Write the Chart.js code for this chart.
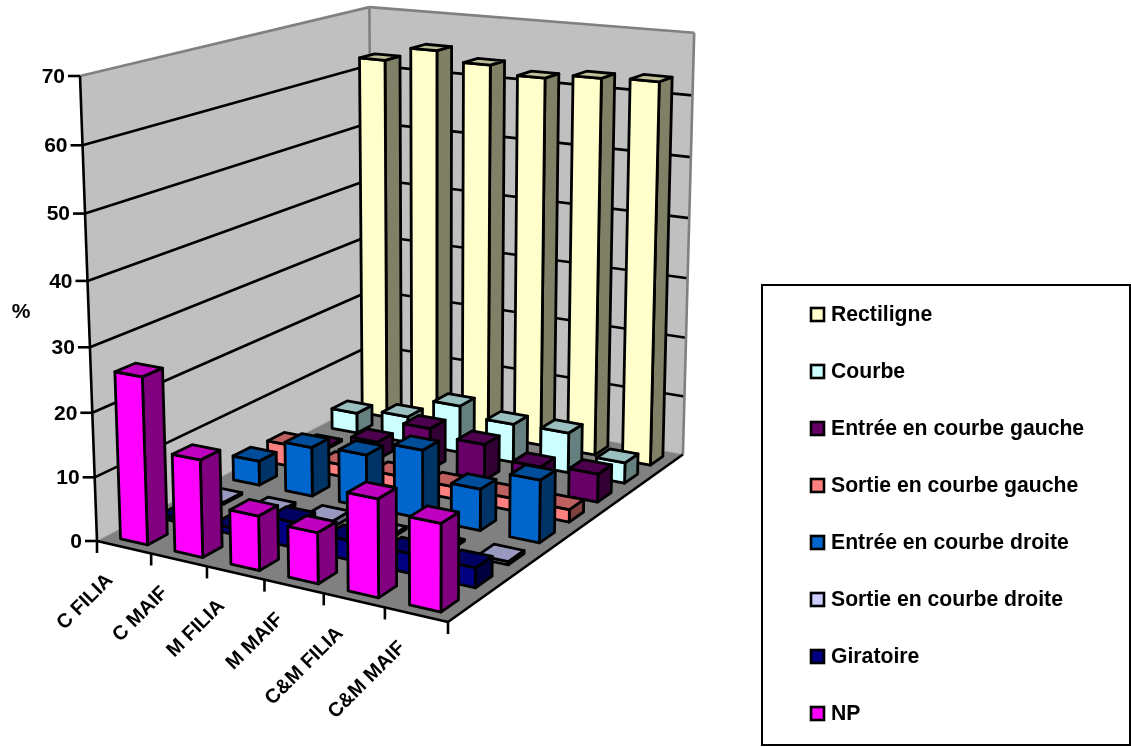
<!DOCTYPE html>
<html>
<head>
<meta charset="utf-8">
<style>html,body{margin:0;padding:0;background:#fff}canvas{display:block}</style>
<script src="https://cdn.jsdelivr.net/npm/chart.js@4"></script>
</head>
<body>
<canvas id="c" width="1131" height="747"></canvas>
<script>
const categories = ['C FILIA', 'C MAIF', 'M FILIA', 'M MAIF', 'C&M FILIA', 'C&M MAIF'];
const seriesNames = ['Rectiligne', 'Courbe', 'Entrée en courbe gauche', 'Sortie en courbe gauche',
  'Entrée en courbe droite', 'Sortie en courbe droite', 'Giratoire', 'NP'];
const rectiligne = [62.5, 64.9, 63.3, 62, 62.8, 63.1];
const courbe = [3.5, 4.5, 8, 6.5, 6.7, 3.4];
const entreeGauche = [0.3, 3, 7, 6, 4, 4.6];
const sortieGauche = [3.6, 2, 2, 2, 2, 2];
const entreeDroite = [4, 8, 8.5, 11, 6.6, 9.8];
const sortieDroite = [0.3, 0.5, 1, 0.4, 0.3, 0.5];
const giratoire = [0.6, 1, 4, 3, 3, 3];
const np = [26, 15, 8.3, 7.7, 14.6, 12.9];
const seriesValues = [rectiligne, courbe, entreeGauche, sortieGauche, entreeDroite, sortieDroite, giratoire, np];
const seriesColors = ['#FFFFCC', '#CCFFFF', '#660066', '#FF8080', '#0066CC', '#CCCCFF', '#000080', '#FF00FF'];
const yTicks = { min: 0, max: 70, step: 10 };

// Perspective box of the plot: floor corners, top of the left wall, homogeneous weights.
const BOX = {
  origin: [97, 541], right: [448, 622], back: [372, 399], up: [80, 76],
  p: -0.0875, q: 0.195, r: -0.048
};
function project(u, v, w) {
  const { origin: A, right: B, back: D, up: T, p, q, r } = BOX;
  const d = 1 + p * u + q * w + r * v;
  const f = i => A[i] + u * (B[i] * (1 + p) - A[i]) + w * (D[i] * (1 + q) - A[i]) + v * (T[i] * (1 + r) - A[i]);
  return [f(0) / d, f(1) / d];
}
function shade(hex, k) {
  const n = parseInt(hex.slice(1), 16);
  const c = s => Math.round(((n >> s) & 255) * k);
  return `rgb(${c(16)},${c(8)},${c(0)})`;
}
function poly(ctx, pts, fill, stroke, lw) {
  ctx.beginPath();
  pts.forEach((q, i) => i ? ctx.lineTo(q[0], q[1]) : ctx.moveTo(q[0], q[1]));
  ctx.closePath();
  if (fill) { ctx.fillStyle = fill; ctx.fill(); }
  if (stroke) { ctx.strokeStyle = stroke; ctx.lineWidth = lw; ctx.lineJoin = 'round'; ctx.stroke(); }
}
function line(ctx, a, b, color, lw) {
  ctx.beginPath(); ctx.moveTo(a[0], a[1]); ctx.lineTo(b[0], b[1]);
  ctx.strokeStyle = color; ctx.lineWidth = lw; ctx.lineCap = 'butt'; ctx.stroke();
}
const normU = (s, px) => (px - s.left) / s.width;
const normV = (s, px) => (s.bottom - px) / s.height;
const INK = 2.8;

// Bar controller that renders each element as a prism inside the perspective box.
class Prism3D extends Chart.BarController {
  draw() {
    const ctx = this.chart.ctx, meta = this.getMeta();
    const xs = meta.xScale, ys = meta.yScale, zs = this.chart.scales.z;
    const color = this.getDataset().backgroundColor;
    const halfU = 0.25 / categories.length, halfW = 0.25 / seriesNames.length;
    const w0 = normU(zs, zs.getPixelForValue(this.index));
    meta.data.forEach((el, i) => {
      const u0 = normU(xs, xs.getPixelForValue(i));
      const v = normV(ys, ys.getPixelForValue(this.getParsed(i).y));
      const P = (du, vv, dw) => project(u0 + du * halfU, vv, w0 + dw * halfW);
      ctx.save();
      poly(ctx, [P(1, 0, -1), P(1, 0, 1), P(1, v, 1), P(1, v, -1)], shade(color, 0.5), '#000', INK);
      poly(ctx, [P(-1, 0, -1), P(1, 0, -1), P(1, v, -1), P(-1, v, -1)], color, '#000', INK);
      poly(ctx, [P(-1, v, -1), P(1, v, -1), P(1, v, 1), P(-1, v, 1)], shade(color, 0.75), '#000', INK);
      ctx.restore();
    });
  }
}
Prism3D.id = 'prism3d';
Prism3D.defaults = Chart.BarController.defaults;
Chart.register(Prism3D);

// Walls, floor, gridlines and both axes of the box.
const boxPlugin = {
  id: 'box',
  beforeDatasetsDraw(chart) {
    const ctx = chart.ctx, ys = chart.scales.y;
    const vOf = t => normV(ys, ys.getPixelForValue(t));
    poly(ctx, [project(0,0,0), project(0,0,1), project(0,1,1), project(0,1,0)], '#C0C0C0');
    poly(ctx, [project(0,0,1), project(1,0,1), project(1,1,1), project(0,1,1)], '#C0C0C0');
    poly(ctx, [project(0,0,0), project(1,0,0), project(1,0,1), project(0,0,1)], '#808080');
    ys.ticks.forEach(t => {
      const v = vOf(t.value);
      if (t.value === 0 || t.value === yTicks.max) return;
      line(ctx, project(0,v,0), project(0,v,1), '#000', 2.6);
      line(ctx, project(0,v,1), project(1,v,1), '#000', 2.6);
    });
    line(ctx, project(0,1,0), project(0,1,1), '#808080', 2.6);
    line(ctx, project(0,1,1), project(1,1,1), '#808080', 2.6);
    line(ctx, project(0,0,1), project(0,1,1), '#808080', 2.6);
    line(ctx, project(1,0,1), project(1,1,1), '#808080', 2.6);
    line(ctx, project(0,0,1), project(1,0,1), '#9a9a9a', 1);
    line(ctx, project(0,0,0), project(0,0,1), '#9a9a9a', 1);
    line(ctx, project(1,0,0), project(1,0,1), '#000', 2.6);
    line(ctx, project(0,0,0), project(1,0,0), '#000', 2.6);
    line(ctx, project(0,0,0), project(0,1,0), '#000', 2.6);
  },
  afterDatasetsDraw(chart) {
    const ctx = chart.ctx, ys = chart.scales.y;
    ctx.save();
    ctx.font = 'bold 21px "Liberation Sans", Arial, sans-serif';
    ctx.fillStyle = '#000';
    ctx.textBaseline = 'middle';
    ctx.textAlign = 'right';
    ys.ticks.forEach(t => {
      const q = project(0, normV(ys, ys.getPixelForValue(t.value)), 0);
      line(ctx, [q[0] - 12, q[1]], q, '#000', 2.6);
      ctx.fillText(t.label, q[0] - 15, q[1] + 1);
    });
    ctx.textAlign = 'center';
    ctx.fillText('%', 21, 312);
    ctx.font = 'bold 20px "Liberation Sans", Arial, sans-serif';
    categories.concat('').forEach((name, i) => {
      const q = project(i / categories.length, 0, 0);
      line(ctx, q, [q[0], q[1] + 12], '#000', 2.6);
      if (!name) return;
      const m = project((i + 0.5) / categories.length, 0, 0);
      ctx.save();
      ctx.translate(m[0] - 14, m[1] + 30);
      ctx.rotate(-Math.PI / 4);
      ctx.textAlign = 'right';
      ctx.fillText(name, 0, 0);
      ctx.restore();
    });
    ctx.restore();
  }
};

// Framed legend listing the series in dataset order.
const legendPlugin = {
  id: 'framedLegend',
  afterDraw(chart) {
    const ctx = chart.ctx;
    ctx.save();
    ctx.strokeStyle = '#000';
    ctx.lineWidth = 2;
    ctx.strokeRect(762, 285, 368, 460);
    ctx.font = 'bold 21.2px "Liberation Sans", Arial, sans-serif';
    ctx.textBaseline = 'middle';
    ctx.textAlign = 'left';
    ctx.lineWidth = 2.6;
    chart.data.datasets.forEach((ds, i) => {
      const y = 314 + i * 57;
      ctx.fillStyle = ds.backgroundColor;
      ctx.fillRect(811, y - 6, 13, 13);
      ctx.strokeRect(811, y - 6, 13, 13);
      ctx.fillStyle = '#000';
      ctx.fillText(ds.label, 831, y + 1);
    });
    ctx.restore();
  }
};

new Chart(document.getElementById('c'), {
  type: 'prism3d',
  plugins: [boxPlugin, legendPlugin],
  data: {
    labels: categories,
    datasets: seriesNames.map((label, i) => ({
      label, data: seriesValues[i], backgroundColor: seriesColors[i],
      order: seriesNames.length - i, clip: false
    }))
  },
  options: {
    responsive: false,
    animation: false,
    events: [],
    layout: { padding: 0 },
    plugins: { legend: { display: false }, tooltip: { enabled: false }, title: { display: false } },
    scales: {
      x: { type: 'category', offset: true, display: false, grid: { display: false, offset: true } },
      y: { type: 'linear', display: false, min: yTicks.min, max: yTicks.max, ticks: { stepSize: yTicks.step } },
      z: { type: 'category', axis: 'x', labels: seriesNames, offset: true, reverse: true, display: false }
    }
  }
});
</script>
</body>
</html>
